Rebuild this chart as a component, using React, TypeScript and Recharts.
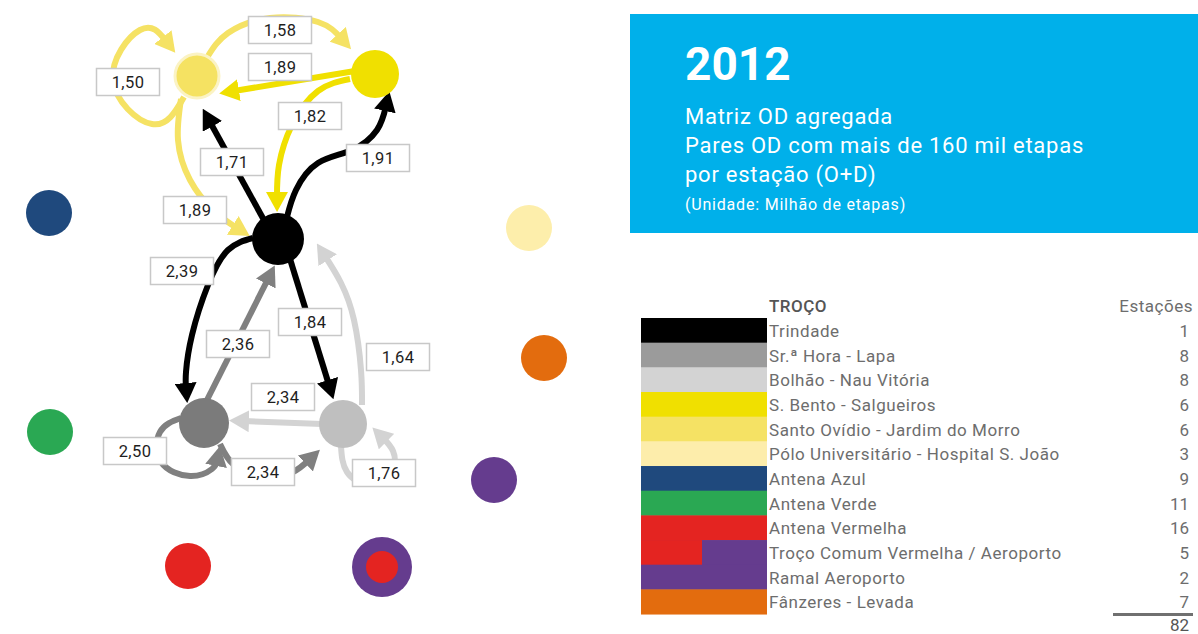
import React from 'react'
import { ComposedChart, XAxis, YAxis, Line, Scatter } from 'recharts'

const W = 1198
const H = 634
const FONT = 'Roboto, "DejaVu Sans", sans-serif'

// cores dos troços
const COL = {
  k: '#000000',
  g: '#808080',
  l: '#d3d3d3',
  y: '#f0e000',
  s: '#f5e264',
}

// nós do diagrama (coordenadas no referencial do gráfico)
const nodes = [
  { x: 197, y: 76, r: 22, fill: '#f5e262', ring: '#fbf3c4' },
  { x: 375, y: 74, r: 24, fill: '#f0e000' },
  { x: 278, y: 239, r: 26, fill: '#000000' },
  { x: 204, y: 423, r: 25, fill: '#7b7b7b' },
  { x: 343, y: 424, r: 24, fill: '#bfbfbf' },
  { x: 49, y: 213, r: 23, fill: '#1f497d' },
  { x: 529, y: 228, r: 23, fill: '#fdeeab' },
  { x: 544, y: 358, r: 23, fill: '#e36c0e' },
  { x: 50, y: 432, r: 23, fill: '#2aa853' },
  { x: 494, y: 480, r: 23, fill: '#653c8e' },
  { x: 188, y: 566, r: 23, fill: '#e42421' },
  { x: 382, y: 567, r: 30, fill: '#653c8e', inner: '#e42421' },
]

// valores dos pares OD (milhões de etapas)
const edgeValues = ['1,50', '1,58', '1,89', '1,82', '1,91', '1,71', '1,89', '2,39', '2,36', '1,84', '1,64', '2,34', '2,50', '2,34', '1,76']
const edgeColors = ['s', 's', 'y', 'y', 'k', 'k', 's', 'k', 'g', 'k', 'l', 'l', 'g', 'g', 'l']

// traçado de cada ligação
const edgePaths: number[][][] = [
  [[184, 97], [152, 124], [113, 80], [140, 30], [166, 41]],
  [[208, 56], [228, 33], [270, 18], [318, 22], [341, 38]],
  [[355, 71], [234, 91]],
  [[350, 79], [318, 91], [292, 125], [279, 165], [277, 197]],
  [[287, 217], [296, 190], [318, 163], [352, 150], [377, 130], [386, 106]],
  [[265, 222], [210, 122]],
  [[181, 99], [178, 140], [190, 180], [214, 211], [237, 228]],
  [[253, 238], [228, 250], [208, 285], [192, 335], [186, 372], [186, 388]],
  [[207, 400], [268, 279]],
  [[290, 259], [329, 385]],
  [[362, 405], [361, 370], [354, 320], [341, 283], [325, 256]],
  [[322, 424], [244, 421]],
  [[181, 418], [160, 432], [161, 462], [190, 476], [212, 469], [217, 461]],
  [[220, 444], [235, 466], [265, 478], [293, 472], [309, 460]],
  [[341, 446], [347, 472], [370, 484], [392, 470], [393, 451], [383, 438]],
]

// posição das etiquetas
const labelPos = [
  [128, 82], [280, 30], [280, 67], [310, 116], [378, 158], [232, 162], [195, 210],
  [182, 271], [238, 344], [310, 322], [398, 357], [283, 397], [135, 451], [263, 472], [384, 473],
]

// legenda
const trocoNames = [
  'Trindade',
  'Sr.ª Hora - Lapa',
  'Bolhão - Nau Vitória',
  'S. Bento - Salgueiros',
  'Santo Ovídio - Jardim do Morro',
  'Pólo Universitário - Hospital S. João',
  'Antena Azul',
  'Antena Verde',
  'Antena Vermelha',
  'Troço Comum Vermelha / Aeroporto',
  'Ramal Aeroporto',
  'Fânzeres - Levada',
]
const trocoStations = [1, 8, 8, 6, 6, 3, 9, 11, 16, 5, 2, 7]
const trocoColors = ['#000000', '#9b9b9b', '#d3d3d3', '#f0e000', '#f5e264', '#fdedab', '#1f497d', '#2aa853', '#e42421', '#653c8e', '#653c8e', '#e36c0e']
const totalStations = '82'

const NodeShape = (props: any) => {
  const { cx, cy, payload } = props
  return (
    <g>
      <circle cx={cx} cy={cy} r={payload.r} fill={payload.fill} stroke={payload.ring || 'none'} strokeWidth={payload.ring ? 3 : 0} />
      {payload.inner && <circle cx={cx} cy={cy} r={16} fill={payload.inner} />}
    </g>
  )
}

const LabelShape = (props: any) => {
  const { cx, cy, payload } = props
  return (
    <g>
      <rect x={cx - 31.5} y={cy - 13.5} width={63} height={27} fill="#ffffff" stroke="#c8c8c8" strokeWidth={1.5} />
      <text x={cx} y={cy + 6} textAnchor="middle" fontFamily={FONT} fontSize={16.5} letterSpacing={0.4} fill="#1e1e1e">
        {payload.text}
      </text>
    </g>
  )
}

export default function App() {
  const labels = labelPos.map(([x, y], i) => ({ x, y, text: edgeValues[i] }))
  const rowH = 24.67

  return (
    <div style={{ position: 'absolute', left: 0, top: 0, width: W, height: H, background: '#ffffff' }}>
      <ComposedChart width={W} height={H} margin={{ top: 0, right: 0, bottom: 0, left: 0 }}>
        <defs>
          {Object.entries(COL).map(([k, c]) => (
            <marker key={k} id={`ah-${k}`} viewBox="0 0 20 22" markerWidth={20} markerHeight={22} refX={5} refY={11} orient="auto" markerUnits="userSpaceOnUse">
              <path d="M0,0 L20,11 L0,22 z" fill={c} />
            </marker>
          ))}
        </defs>
        <XAxis type="number" dataKey="x" domain={[0, W]} allowDataOverflow hide />
        <YAxis type="number" dataKey="y" domain={[0, H]} allowDataOverflow reversed hide />
        {edgePaths.map((pts, i) => (
          <Line
            key={i}
            data={pts.map(([x, y]) => ({ x, y }))}
            dataKey="y"
            type="natural"
            stroke={(COL as any)[edgeColors[i]]}
            strokeWidth={6}
            dot={false}
            activeDot={false}
            isAnimationActive={false}
            markerEnd={`url(#ah-${edgeColors[i]})`}
          />
        ))}
        <Scatter data={nodes} dataKey="y" shape={NodeShape} isAnimationActive={false} />
        <Scatter data={labels} dataKey="y" shape={LabelShape} isAnimationActive={false} />
      </ComposedChart>

      <div style={{ position: 'absolute', left: 630, top: 14, width: 568, height: 219, background: '#00b0ea' }} />
      <svg width={W} height={H} style={{ position: 'absolute', left: 0, top: 0, pointerEvents: 'none' }}>
        <g fontFamily={FONT} fill="#ffffff">
          <text x={685} y={80} fontSize={46} fontWeight={700}>2012</text>
          <text x={685} y={124} fontSize={22} letterSpacing={0.75}>Matriz OD agregada</text>
          <text x={685} y={153} fontSize={22} letterSpacing={0.75}>Pares OD com mais de 160 mil etapas</text>
          <text x={685} y={182} fontSize={22} letterSpacing={0.75}>por estação (O+D)</text>
          <text x={685} y={210} fontSize={16} letterSpacing={0.8}>(Unidade: Milhão de etapas)</text>
        </g>

        <g fontFamily={FONT} fontSize={17}>
          <text x={769} y={312} fill="#555555" fontWeight={500} letterSpacing={0.5}>TROÇO</text>
          <text x={1193} y={312} fill="#6d6d6d" textAnchor="end" letterSpacing={0.5}>Estações</text>
          {trocoNames.map((n, i) => {
            const top = 318 + i * rowH
            return (
              <g key={n}>
                <rect x={641} y={top} width={126} height={rowH + 0.5} fill={trocoColors[i]} />
                {i === 9 && <rect x={641} y={top} width={61} height={rowH + 0.5} fill="#e42421" />}
                <text x={769} y={top + 19} fill="#6d6d6d" letterSpacing={0.55}>{n}</text>
                <text x={1189} y={top + 19} fill="#6d6d6d" textAnchor="end">{trocoStations[i]}</text>
              </g>
            )
          })}
          <rect x={1113} y={613} width={80} height={3} fill="#707070" />
          <text x={1189} y={631} fill="#555555" textAnchor="end">{totalStations}</text>
        </g>
      </svg>
    </div>
  )
}
